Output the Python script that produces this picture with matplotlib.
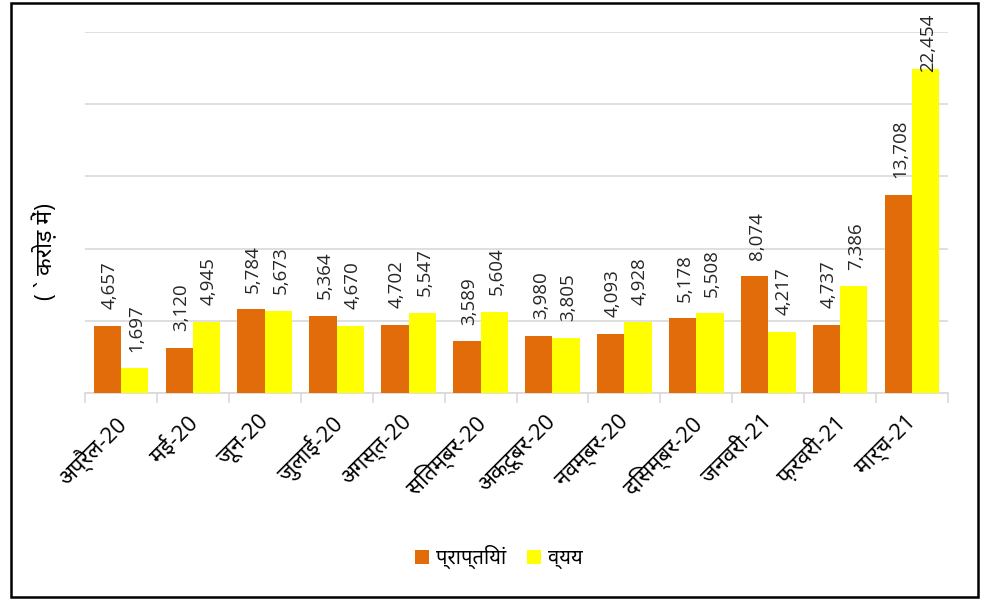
import matplotlib
matplotlib.use("Agg")
import matplotlib.pyplot as plt
import matplotlib.transforms as mtransforms
import numpy as np
from matplotlib.patches import Rectangle
from matplotlib.ticker import FixedLocator, MultipleLocator

# =====================
# Дані
# =====================
months = ["अप्रैल-20", "मई-20", "जून-20", "जुलाई-20", "अगस्त-20", "सितम्बर-20",
          "अक्टूबर-20", "नवम्बर-20", "दिसम्बर-20", "जनवरी-21", "फ़रवरी-21", "मार्च-21"]
receipts = [4657, 3120, 5784, 5364, 4702, 3589, 3980, 4093, 5178, 8074, 4737, 13708]
expenses = [1697, 4945, 5673, 4670, 5547, 5604, 3805, 4928, 5508, 4217, 7386, 22454]

series_names = ["प्राप्तियां", "व्यय"]
y_label = "( ` करोड़ में)"

orange = "#E36C0A"
yellow = "#FFFF00"
grid_col = "#D9D9D9"

fonts = ["Open Sans", "Noto Sans Devanagari", "Mukta", "DejaVu Sans"]
plt.rcParams["font.family"] = fonts

# =====================
# Графік
# =====================
fig = plt.figure(figsize=(9.88, 5.99), dpi=100)
W, H = 988, 599
ax = fig.add_axes([85 / W, 1 - 393 / H, (948 - 85) / W, (393 - 32) / H])

x = np.arange(len(months))
bw = 0.38
b1 = ax.bar(x - bw / 2, receipts, bw, color=orange, label=series_names[0], zorder=3)
b2 = ax.bar(x + bw / 2, expenses, bw, color=yellow, label=series_names[1], zorder=3)

for bars, vals in ((b1, receipts), (b2, expenses)):
    for rect, v in zip(bars, vals):
        # найвищий підпис не влазить над стовпчиком - ставимо впритул
        dy = -2 if v > 20000 else 12
        ax.annotate(f"{v:,}", (rect.get_x() + rect.get_width() / 2, rect.get_height()),
                    xytext=(1.5, dy), textcoords="offset points", rotation=90,
                    ha="center", va="bottom", fontsize=13.5, color="#262626")

ax.set_xlim(-0.5, len(months) - 0.5)
ax.set_ylim(0, 25000)
ax.yaxis.set_major_locator(MultipleLocator(5000))
ax.grid(axis="y", color=grid_col, linewidth=1.2, zorder=0)
ax.set_yticklabels([])
ax.tick_params(axis="y", length=0)

for s in ("top", "right", "left"):
    ax.spines[s].set_visible(False)
ax.spines["bottom"].set_color(grid_col)
ax.spines["bottom"].set_linewidth(1.2)

ax.set_xticks(x)
ax.set_xticklabels(months, rotation=45, ha="right", va="top", rotation_mode="anchor",
                   fontsize=16)
ax.tick_params(axis="x", which="major", length=0, pad=13)
shift = mtransforms.ScaledTranslation(-7 / 100, 0, fig.dpi_scale_trans)
for lbl in ax.get_xticklabels():
    lbl.set_transform(lbl.get_transform() + shift)
ax.xaxis.set_minor_locator(FixedLocator(np.arange(-0.5, len(months), 1.0)))
ax.tick_params(axis="x", which="minor", length=7, color=grid_col, width=1.2)

fig.text(45 / W, 1 - 252 / H, y_label, rotation=90, ha="center", va="center", fontsize=16.5)

fig.legend(loc="center", bbox_to_anchor=(499 / W, 1 - 557 / H), ncol=2, frameon=False,
           fontsize=14.5, handlelength=0.7, handleheight=0.7, handletextpad=0.35,
           columnspacing=1.0)

fig.patches.append(Rectangle((11 / W, 1 - 597 / H), (978 - 11) / W, (597 - 3) / H,
                             transform=fig.transFigure, fill=False, edgecolor="black",
                             linewidth=1.8))

fig.savefig("out.png", dpi=100)
